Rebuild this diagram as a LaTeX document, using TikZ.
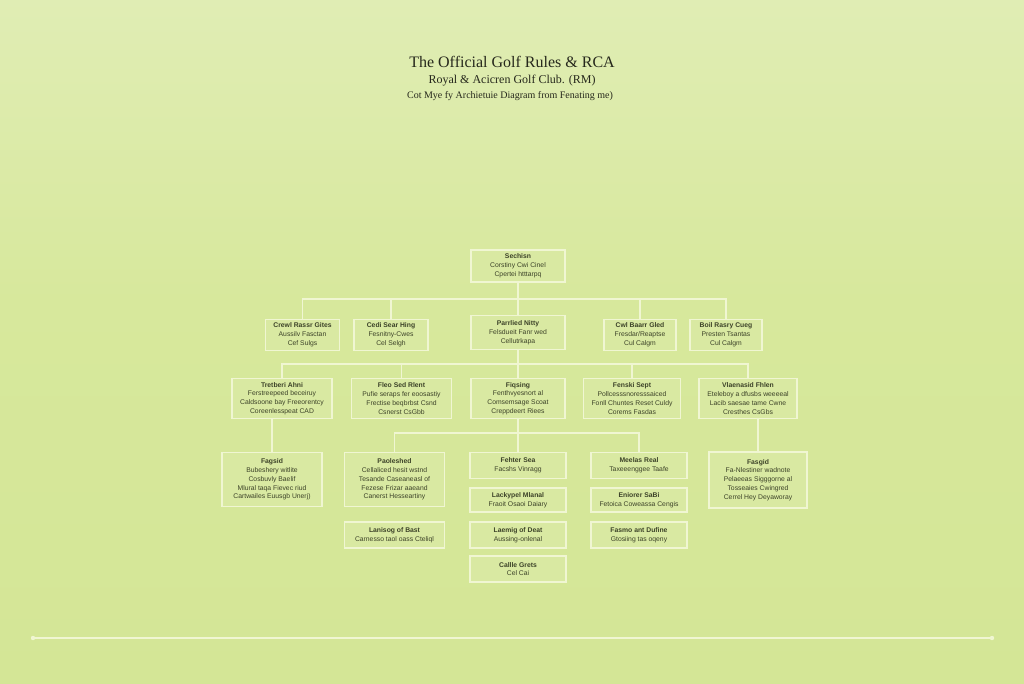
\documentclass[tikz,border=0pt]{standalone}
\usepackage{fontspec}
\setmainfont{Liberation Serif}
\newfontfamily\boxfont{Liberation Sans}
\definecolor{bgtop}{RGB}{224,237,180}
\definecolor{bgmid}{RGB}{215,232,156}
\definecolor{bgbot}{RGB}{212,230,150}
\definecolor{boxfill}{RGB}{217,233,162}
\definecolor{linecol}{RGB}{240,246,210}
\definecolor{txtcol}{RGB}{60,66,40}
\definecolor{titlecol}{RGB}{38,40,28}
\tikzset{
  orgbox/.style={draw=linecol, fill=boxfill, line width=0.9pt, align=center,
    inner sep=1pt, text=txtcol, font={\boxfont\fontsize{5.1}{6.6}\selectfont}},
  conn/.style={draw=linecol, line width=0.9pt},
}
\begin{document}
\begin{tikzpicture}[x=0.75pt,y=-0.75pt]
\useasboundingbox (0,0) rectangle (1024,683);
\shade[top color=bgtop, bottom color=bgmid] (0,0) rectangle (1024,300);
\shade[top color=bgmid, bottom color=bgbot] (0,300) rectangle (1024,683);

% titles
\node[text=titlecol, font=\fontsize{12}{14}\selectfont] (t1) at (512,62) {The Official Golf Rules \& RCA};
\node[text=titlecol, font=\fontsize{9}{11}\selectfont] (t2) at (512,81) {Royal \& Acicren Golf Club. (RM)};
\node[text=titlecol, font=\fontsize{7.5}{9}\selectfont] (t3) at (510,96) {Cot Mye fy Archietuie Diagram from Fenating me)};

% level 1
\node[orgbox, minimum width=70.5pt, minimum height=24pt] (sec) at (518,266) {\textbf{Sechisn}\\Corstiny Cwi Cinel\\Cpertei htttarpq};

% level 2
\node[orgbox, minimum width=56pt, minimum height=23pt] (l2a) at (302.5,335) {\textbf{Crewl Rassr Gites}\\Aussilv Fasctan\\Cef Sulgs};
\node[orgbox, minimum width=55.5pt, minimum height=23pt] (l2b) at (391,335) {\textbf{Cedi Sear Hing}\\Fesnitny-Cwes\\Cel Selgh};
\node[orgbox, minimum width=70.5pt, minimum height=26pt] (l2c) at (518,332.5) {\textbf{Parrlied Nitty}\\Felsdueit Fanr wed\\Cellutrkapa};
\node[orgbox, minimum width=54pt, minimum height=23pt] (l2d) at (640,335) {\textbf{Cwl Baarr Gled}\\Fresdar/Reaptse\\Cul Calgm};
\node[orgbox, minimum width=54pt, minimum height=23pt] (l2e) at (726,335) {\textbf{Boil Rasry Cueg}\\Presten Tsantas\\Cul Calgm};

% level 3
\node[orgbox, minimum width=75pt, minimum height=29.5pt] (l3a) at (282,398.5) {\textbf{Tretberi Ahni}\\Ferstreepeed beceiruy\\Caldsoone bay Freeorentcy\\Coreenlesspeat CAD};
\node[orgbox, minimum width=75.5pt, minimum height=29.5pt] (l3b) at (401.5,398.5) {\textbf{Fleo Sed Rlent}\\Pufie seraps fer eoosastiy\\Frectise beqbrbst Csnd\\Csnerst CsGbb};
\node[orgbox, minimum width=70.5pt, minimum height=29.5pt] (l3c) at (518,398.5) {\textbf{Fiqsing}\\Fenthvyesnort al\\Comsemsage Scoat\\Creppdeert Riees};
\node[orgbox, minimum width=73pt, minimum height=29.5pt] (l3d) at (632,398.5) {\textbf{Fenski Sept}\\Pollcesssnoresssaiced\\Fonll Chuntes Reset Culdy\\Corems Fasdas};
\node[orgbox, minimum width=73.5pt, minimum height=29.5pt] (l3e) at (748,398.5) {\textbf{Vlaenasid Fhlen}\\Eteleboy a dfusbs weeeeal\\Lacib saesae tame Cwne\\Cresthes CsGbs};

% level 4
\node[orgbox, minimum width=75pt, minimum height=41pt] (fagl) at (272,479.5) {\textbf{Fagsid}\\Bubeshery witlite\\Cosbuvly Baelif\\Mlural taqa Fievec riud\\Cartwailes Euusgb Unerj)};
\node[orgbox, minimum width=75.5pt, minimum height=41pt] (pao) at (394.5,479.5) {\textbf{Paoleshed}\\Cellaliced hesit wstnd\\Tesande Caseaneasl of\\Fezese Frizar aaeand\\Canerst Hesseartiny};
\node[orgbox, minimum width=75.5pt, minimum height=19.5pt] (lan) at (394.5,535) {\textbf{Lanisog of Bast}\\Carnesso taol oass Cteliql};
\node[orgbox, minimum width=72pt, minimum height=19.5pt] (feh) at (518,465.5) {\textbf{Fehter Sea}\\Facshs Vinragg};
\node[orgbox, minimum width=72pt, minimum height=18pt] (lac) at (518,500) {\textbf{Lackypel Mlanal}\\Fraoit Osaoi Daiary};
\node[orgbox, minimum width=72pt, minimum height=19.5pt] (lae) at (518,535) {\textbf{Laemig of Deat}\\Aussing-onlenal};
\node[orgbox, minimum width=72pt, minimum height=19.5pt] (cal) at (518,569) {\textbf{Callle Grets}\\Cel Cai};
\node[orgbox, minimum width=72pt, minimum height=19.5pt] (mee) at (639,465.5) {\textbf{Meelas Real}\\Taxeeenggee Taafe};
\node[orgbox, minimum width=72pt, minimum height=18pt] (eni) at (639,500) {\textbf{Eniorer SaBi}\\Fetoica Coweassa Cengis};
\node[orgbox, minimum width=72pt, minimum height=19.5pt] (fas) at (639,535) {\textbf{Fasmo ant Dufine}\\Gtosiing tas oqeny};
\node[orgbox, minimum width=73.5pt, minimum height=42pt] (fagr) at (758,480) {\textbf{Fasgid}\\Fa-Nlestiner wadnote\\Pelaeeas Sigggorne al\\Tosseaies Cwingred\\Cerrel Hey Deyaworay};

% connectors
\coordinate (bus1) at (518,299);
\coordinate (bus2) at (518,364);
\coordinate (bus3) at (518,433);
\draw[conn] (sec.south) -- (l2c.north);
\draw[conn] (l2a.north) |- (bus1) -| (l2e.north);
\draw[conn] (l2b.north) -- (l2b.north |- bus1);
\draw[conn] (l2d.north) -- (l2d.north |- bus1);
\draw[conn] (l2c.south) -- (l3c.north);
\draw[conn] (l3a.north) |- (bus2) -| (l3e.north);
\draw[conn] (l3b.north) -- (l3b.north |- bus2);
\draw[conn] (l3d.north) -- (l3d.north |- bus2);
\draw[conn] (l3c.south) -- (feh.north);
\draw[conn] (pao.north) |- (bus3) -| (mee.north);
\draw[conn] (fagl.north) -- (fagl.north |- l3a.south);
\draw[conn] (fagr.north) -- (fagr.north |- l3e.south);

% bottom rule
\coordinate (rl) at (33,638);
\coordinate (rr) at (992,638);
\draw[conn, line width=1.1pt] (rl) -- (rr);
\fill[linecol] (rl) circle (2.2);
\fill[linecol] (rr) circle (2.2);
\end{tikzpicture}
\end{document}
